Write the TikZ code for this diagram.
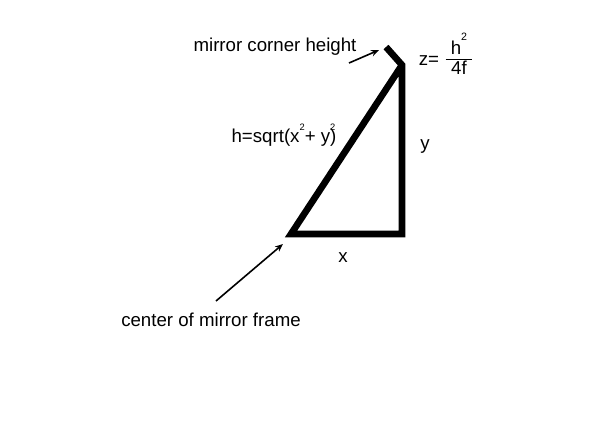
\documentclass[tikz,border=0pt]{standalone}
\usepackage{fontspec}
\setmainfont{Liberation Sans}
\usetikzlibrary{arrows.meta}
\begin{document}
\begin{tikzpicture}[x=0.75pt, y=-0.75pt,
    lbl/.style={inner sep=0pt, font=\fontsize{14}{16}\selectfont},
    frame/.style={line width=5pt, line join=miter},
    pointer/.style={line width=1.2pt, -{Stealth[length=6pt, width=5pt]}}]
    \useasboundingbox (0,0) rectangle (596,447);
    \coordinate (base) at (291,234);
    \coordinate (foot) at (402,234);
    \coordinate (apex) at (402,65);
    \coordinate (tip) at (386,47);
    \draw[frame] (tip) -- (apex) -- (foot) -- (base) -- (apex);
    \node[lbl] (corner) at (275,47) {mirror corner height};
    \coordinate (cornertail) at (349,63);
    \coordinate (cornerhead) at (379,50);
    \draw[pointer] (cornertail) -- (cornerhead);
    \node[lbl] (zeq) at (429,61) {z=};
    \node[lbl, inner sep=1pt] (zval) at (459,57) {
        \begin{tabular}{@{\hspace{4pt}}c@{\hspace{4pt}}}
            h\raisebox{1.4ex}{\footnotesize 2}\\[-1pt] \hline 4f
        \end{tabular}
    };
    \node[lbl] (hyp) at (284,135) {h=sqrt(x\raisebox{1.2ex}{\scriptsize 2}+ y\rlap{\raisebox{1.2ex}{\scriptsize 2}})};
    \node[lbl] (ylen) at (425,147) {y};
    \node[lbl] (xlen) at (343,258) {x};
    \node[lbl] (center) at (211,320) {center of mirror frame};
    \coordinate (centertail) at (216,301);
    \coordinate (centerhead) at (283,244);
    \draw[pointer] (centertail) -- (centerhead);
\end{tikzpicture}
\end{document}
